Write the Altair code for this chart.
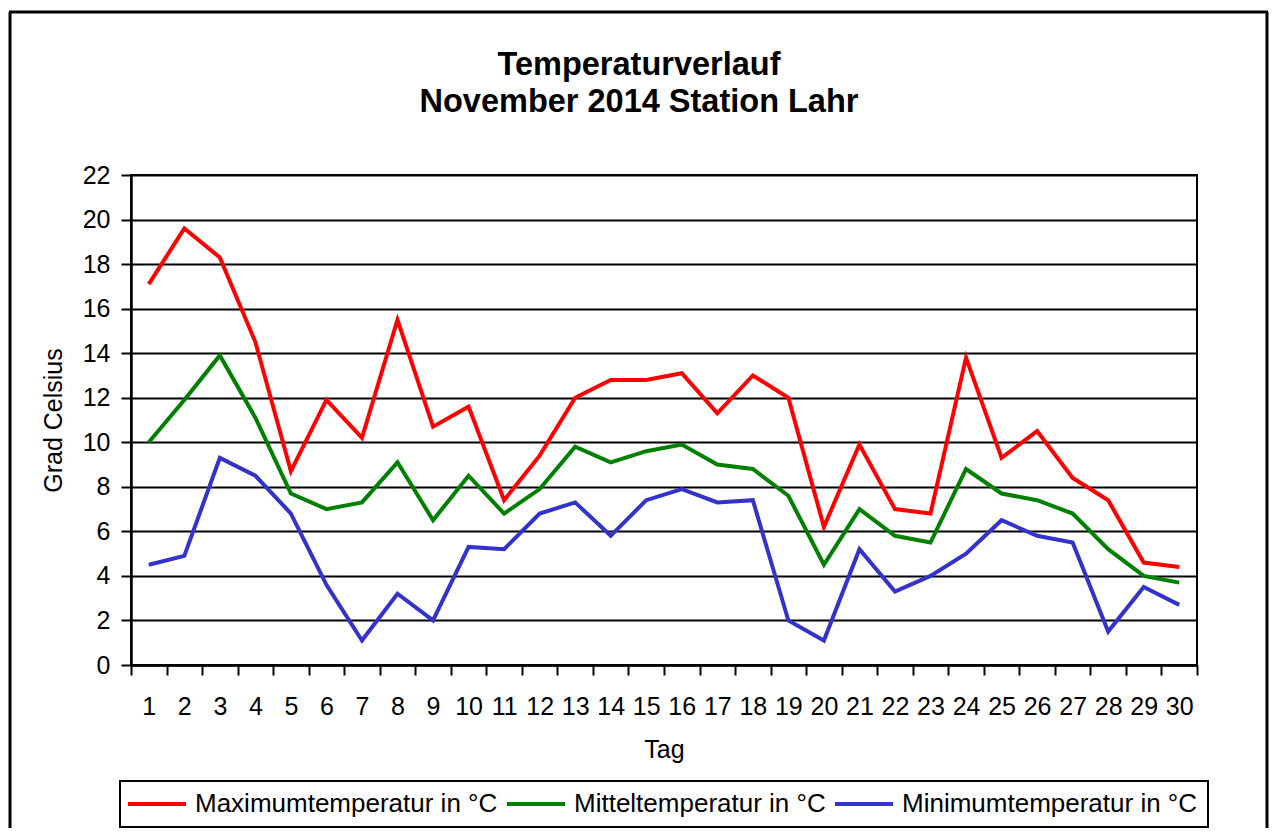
import altair as alt
import pandas as pd

days = list(range(1, 31))
max_vals = [17.1, 19.6, 18.3, 14.5, 8.7, 11.9, 10.2, 15.5, 10.7, 11.6,
            7.4, 9.4, 12.0, 12.8, 12.8, 13.1, 11.3, 13.0, 12.0, 6.2,
            9.9, 7.0, 6.8, 13.8, 9.3, 10.5, 8.4, 7.4, 4.6, 4.4]
mean_vals = [10.0, 11.9, 13.9, 11.1, 7.7, 7.0, 7.3, 9.1, 6.5, 8.5,
             6.8, 7.9, 9.8, 9.1, 9.6, 9.9, 9.0, 8.8, 7.6, 4.5,
             7.0, 5.8, 5.5, 8.8, 7.7, 7.4, 6.8, 5.2, 4.0, 3.7]
min_vals = [4.5, 4.9, 9.3, 8.5, 6.8, 3.6, 1.1, 3.2, 2.0, 5.3,
            5.2, 6.8, 7.3, 5.8, 7.4, 7.9, 7.3, 7.4, 2.0, 1.1,
            5.2, 3.3, 4.0, 5.0, 6.5, 5.8, 5.5, 1.5, 3.5, 2.7]
series = ["Maximumtemperatur in °C", "Mitteltemperatur in °C", "Minimumtemperatur in °C"]
colors = ["#ff0000", "#008000", "#3333cc"]
y_ticks = list(range(0, 23, 2))
title_lines = ["Temperaturverlauf", "November 2014 Station Lahr"]

rows = []
for name, vals in zip(series, [max_vals, mean_vals, min_vals]):
    for d, v in zip(days, vals):
        rows.append({"Tag": d, "Wert": v, "Reihe": name})
df = pd.DataFrame(rows)

FONT = "Liberation Sans"

lines = alt.Chart(df).mark_line(strokeWidth=4).encode(
    x=alt.X("Tag:O",
            scale=alt.Scale(type="band", paddingInner=0, paddingOuter=0),
            axis=alt.Axis(title="Tag", labelAngle=0, tickBand="extent",
                          tickSize=10, tickWidth=2, tickColor="black",
                          domainColor="black", domainWidth=2.5,
                          labelFontSize=25, labelPadding=19, labelColor="black",
                          titleFontSize=25, titleFontWeight="normal", titleColor="black",
                          titleBaseline="alphabetic", titleY=92, grid=False)),
    y=alt.Y("Wert:Q",
            scale=alt.Scale(domain=[0, 22], nice=False),
            axis=alt.Axis(title="Grad Celsius", values=y_ticks, grid=True,
                          gridColor="black", gridWidth=2, gridOpacity=1,
                          tickSize=10, tickWidth=2, tickColor="black",
                          domainColor="black", domainWidth=2.5,
                          labelFontSize=25, labelPadding=11, labelColor="black",
                          titleFontSize=25, titleFontWeight="normal", titleColor="black",
                          titleBaseline="middle", titleX=-78)),
    color=alt.Color("Reihe:N",
                    scale=alt.Scale(domain=series, range=colors),
                    sort=series,
                    legend=alt.Legend(title=None, orient="none", legendX=-11, legendY=606,
                                      direction="horizontal")),
)

one = alt.Data(values=[{}])
t1 = alt.Chart(one).mark_text(text=title_lines[0], fontSize=32.5, fontWeight="bold",
                              align="center", baseline="alphabetic", font=FONT,
                              color="black").encode(x=alt.value(508), y=alt.value(-100))
t2 = alt.Chart(one).mark_text(text=title_lines[1], fontSize=32.5, fontWeight="bold",
                              align="center", baseline="alphabetic", font=FONT,
                              color="black").encode(x=alt.value(508), y=alt.value(-63))

frame_l = alt.Chart(one).mark_rule(color="black", strokeWidth=3).encode(
    x=alt.value(-121), y=alt.value(-163), y2=alt.value(680))
frame_t = alt.Chart(one).mark_rule(color="black", strokeWidth=3).encode(
    x=alt.value(-122), x2=alt.value(1137), y=alt.value(-163))
frame_r = alt.Chart(one).mark_rule(color="black", strokeWidth=3).encode(
    x=alt.value(1136), y=alt.value(-163), y2=alt.value(680))

chart = alt.layer(frame_l, frame_t, frame_r, lines, t1, t2).properties(
    width=1066, height=490,
    autosize=alt.AutoSizeParams(type="none"),
    padding={"left": 123, "top": 167, "right": 72, "bottom": 163},
    background="white",
).configure(font=FONT).configure_view(
    stroke="black", strokeWidth=2
).configure_legend(
    strokeColor="black", strokeWidth=2, padding=10,
    symbolType="M-7.5,0H21.5", symbolStrokeWidth=4, symbolSize=16,
    labelFontSize=26, labelFont=FONT, labelColor="black", labelOffset=39,
    columnPadding=1, labelLimit=0,
)

chart.save("out.html", embed_options={"renderer": "svg", "actions": False})
